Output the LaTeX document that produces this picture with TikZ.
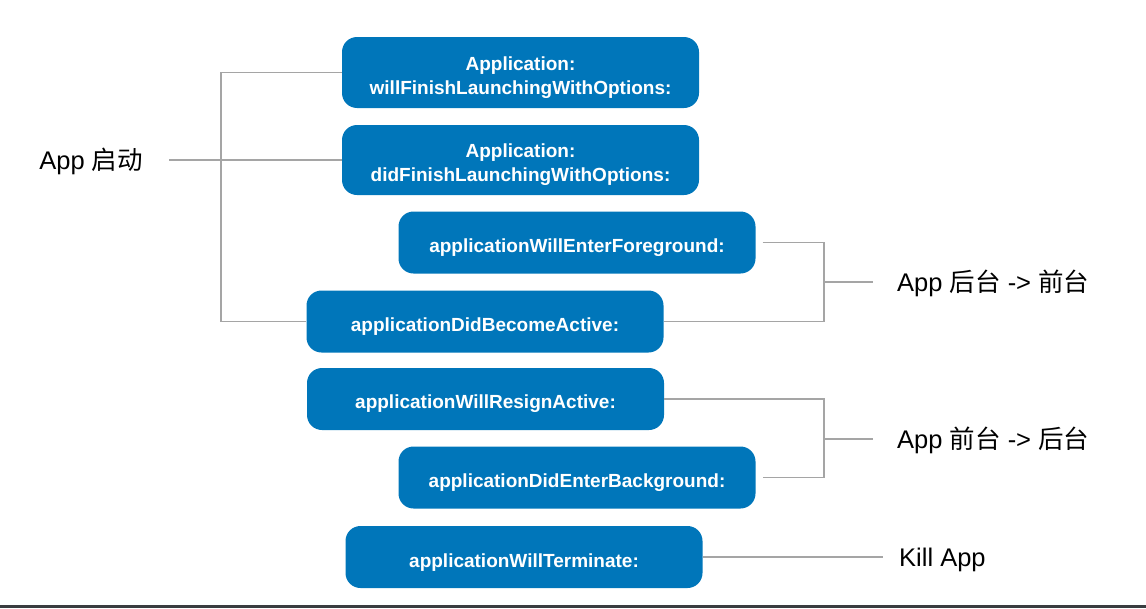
\documentclass[tikz,border=0pt]{standalone}
\usepackage{fontspec}
\setmainfont{Liberation Sans}
\newfontfamily\cjk{Noto Sans CJK SC}
\definecolor{appblue}{RGB}{0,118,186}
\definecolor{linegray}{RGB}{165,165,165}
\definecolor{bargray}{RGB}{58,61,64}
\begin{document}
\begin{tikzpicture}[x=1pt, y=-1pt,
  method/.style={fill=appblue, text=white, rounded corners=15pt, minimum width=357pt,
    minimum height=62pt, inner sep=0pt, align=center, font=\bfseries\fontsize{19}{24}\selectfont,
    execute at begin node=\rule{0pt}{24pt}},
  twoline/.style={method, minimum height=70pt, execute at begin node=\rule{0pt}{48pt}},
  state/.style={inner ysep=0pt, text height=22pt, text depth=3pt, font=\fontsize{25.5}{30}\selectfont},
  wire/.style={draw=linegray, line width=1.6pt}]
\useasboundingbox (0,0) rectangle (1146,608);
\fill[bargray] (0,605) rectangle (1146,608);
% launch
\node[twoline, minimum height=71pt] (M_1) at (520.5,72.5) {Application:\\willFinishLaunchingWithOptions:};
\node[twoline] (M_2) at (520.5,160) {Application:\\didFinishLaunchingWithOptions:};
\node[method] (M_3) at (577,242.5) {applicationWillEnterForeground:};
\node[method] (M_4) at (485,321.5) {applicationDidBecomeActive:};
\node[state, anchor=east, inner xsep=26pt] (S_1) at (169,160) {App {\cjk 启动}};
\coordinate (K_1) at (221,160);
\draw[wire] (M_1.west) -| (K_1) |- (M_4.west);
\draw[wire] (S_1.east) -- (K_1) -- (M_2.west);
% background -> foreground
\node[state, anchor=west, inner xsep=24pt] (S_2) at (873,282) {App {\cjk 后台} -> {\cjk 前台}};
\coordinate (K_2) at (824,282);
\draw[wire] ([xshift=7pt]M_3.east) -| (K_2) |- (M_4.east);
\draw[wire] (K_2) -- (S_2.west);
% foreground -> background
\node[method] (M_5) at (485.5,399) {applicationWillResignActive:};
\node[method] (M_6) at (577,477.5) {applicationDidEnterBackground:};
\node[state, anchor=west, inner xsep=24pt] (S_3) at (873,439) {App {\cjk 前台} -> {\cjk 后台}};
\coordinate (K_3) at (824,439);
\draw[wire] (M_5.east) -| (K_3) |- ([xshift=7pt]M_6.east);
\draw[wire] (K_3) -- (S_3.west);
% kill
\node[method] (M_7) at (524,557) {applicationWillTerminate:};
\node[state, anchor=west, inner xsep=16pt] (S_4) at (883,557) {Kill App};
\draw[wire] (M_7.east) -- (S_4.west);
\end{tikzpicture}
\end{document}
